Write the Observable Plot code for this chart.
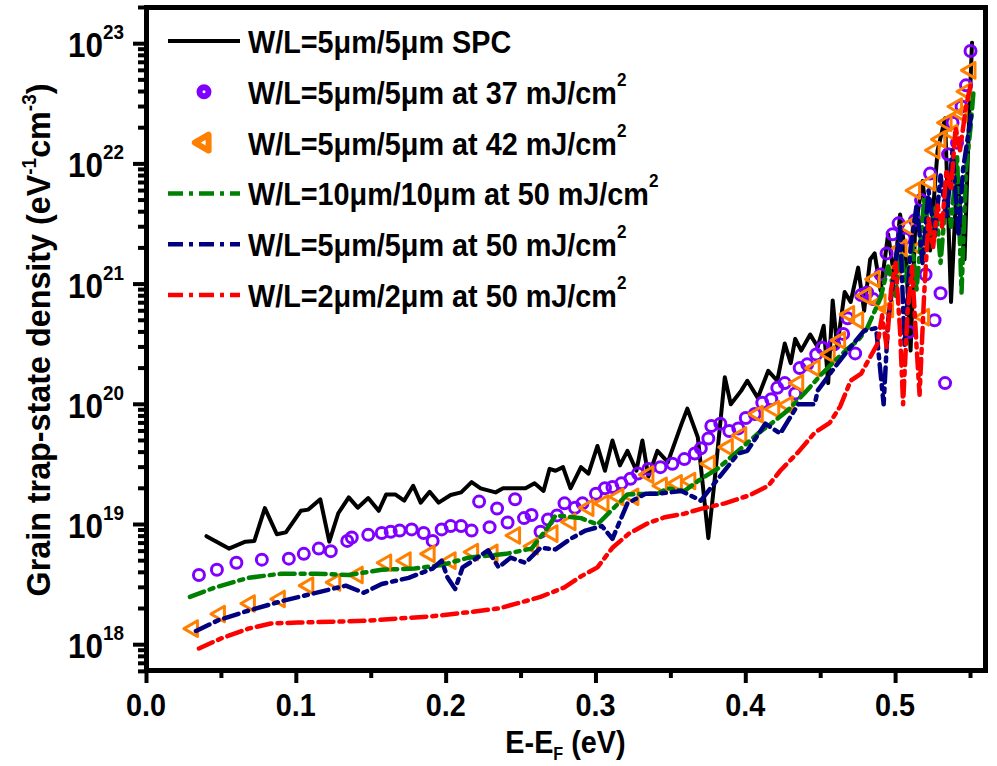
<!DOCTYPE html>
<html><head><meta charset="utf-8">
<script src="https://cdn.jsdelivr.net/npm/d3@7"></script>
<script src="https://cdn.jsdelivr.net/npm/@observablehq/plot@0.6"></script>
<style>body{margin:0;background:#fff}</style>
</head><body><div id="chart"></div>
<script>
// ---- data: [E-EF (eV), density (eV^-1 cm^-3)] ----
const spc = [[0.040,8.0e18],[0.055,6.3e18],[0.066,7.2e18],[0.072,7.3e18],[0.079,1.37e19],[0.087,8.3e18],[0.093,8.6e18],[0.103,1.30e19],[0.108,1.33e19],[0.116,1.62e19],[0.122,7.2e18],[0.128,1.24e19],[0.135,1.68e19],[0.141,1.38e19],[0.148,1.66e19],[0.155,1.30e19],[0.160,1.78e19],[0.166,1.78e19],[0.172,1.58e19],[0.178,2.1e19],[0.183,1.52e19],[0.189,1.87e19],[0.195,1.52e19],[0.203,1.76e19],[0.210,1.85e19],[0.217,2.25e19],[0.223,2.0e19],[0.233,1.85e19],[0.238,2.0e19],[0.246,2.0e19],[0.253,2.0e19],[0.259,2.2e19],[0.265,1.9e19],[0.269,2.9e19],[0.273,2.8e19],[0.278,3.0e19],[0.283,2.0e19],[0.290,3.0e19],[0.295,2.65e19],[0.301,4.5e19],[0.306,2.8e19],[0.311,5.0e19],[0.316,3.1e19],[0.321,4.1e19],[0.327,2.8e19],[0.331,5.0e19],[0.335,2.5e19],[0.341,4.1e19],[0.348,3.3e19],[0.357,6.8e19],[0.361,9.2e19],[0.368,5.3e19],[0.375,7.7e18],[0.379,2.2e19],[0.386,1.68e20],[0.390,1.0e20],[0.397,1.30e20],[0.401,1.57e20],[0.408,1.13e20],[0.415,1.9e20],[0.421,1.57e20],[0.426,3.2e20],[0.430,2.2e20],[0.433,3.5e20],[0.437,2.8e20],[0.443,3.8e20],[0.448,3.0e20],[0.452,4.5e20],[0.455,1.5e20],[0.458,7.3e20],[0.461,3.0e20],[0.466,8.6e20],[0.470,7.1e20],[0.475,1.37e21],[0.479,6.0e20],[0.483,1.6e21],[0.486,1.8e21],[0.490,8.8e20],[0.495,2.6e21],[0.499,1.17e21],[0.503,3.8e21],[0.507,1.57e21],[0.510,2.8e20],[0.513,2.8e21],[0.518,7.2e21],[0.523,1.9e21],[0.528,1.29e22],[0.533,2.4e22],[0.537,7.1e20],[0.541,8.2e21],[0.546,1.6e21],[0.549,2.3e22],[0.551,1.02e23]];

const mj37 = [[0.035,3.8e18],[0.047,4.2e18],[0.060,4.8e18],[0.077,5.1e18],[0.095,5.2e18],[0.105,5.7e18],[0.115,6.3e18],[0.123,6.0e18],[0.134,7.3e18],[0.137,7.8e18],[0.148,8.2e18],[0.157,8.5e18],[0.163,8.7e18],[0.169,8.9e18],[0.177,9.1e18],[0.185,8.5e18],[0.191,7.3e18],[0.197,9.1e18],[0.203,9.7e18],[0.210,9.7e18],[0.217,8.9e18],[0.222,1.55e19],[0.229,9.5e18],[0.234,1.36e19],[0.241,1.04e19],[0.246,1.62e19],[0.252,1.13e19],[0.257,1.2e19],[0.263,8.7e18],[0.268,1.1e19],[0.274,1.19e19],[0.279,1.5e19],[0.286,1.38e19],[0.291,1.5e19],[0.300,1.8e19],[0.306,2.0e19],[0.311,2.05e19],[0.317,2.2e19],[0.323,2.4e19],[0.328,2.65e19],[0.335,2.9e19],[0.343,3.0e19],[0.351,3.2e19],[0.359,3.5e19],[0.366,3.9e19],[0.370,4.3e19],[0.375,5.2e19],[0.377,6.6e19],[0.383,6.9e19],[0.389,6.0e19],[0.395,6.3e19],[0.400,7.7e19],[0.406,8.3e19],[0.411,1.03e20],[0.417,1.1e20],[0.421,1.37e20],[0.426,1.5e20],[0.433,1.23e20],[0.436,2.0e20],[0.441,2.15e20],[0.447,2.6e20],[0.451,2.95e20],[0.459,3.15e20],[0.465,3.85e20],[0.468,5.2e20],[0.473,2.65e20],[0.477,8.1e20],[0.481,8.5e20],[0.485,7.5e20],[0.490,1.2e21],[0.494,1.8e21],[0.498,2.6e21],[0.502,3.2e21],[0.506,2.4e21],[0.509,4.0e20],[0.513,3.4e21],[0.517,5.0e21],[0.520,1.2e21],[0.523,8.3e21],[0.526,5.0e20],[0.530,8.4e20],[0.533,1.5e20],[0.535,1.2e22],[0.538,2.2e22],[0.541,1.5e22],[0.544,3.0e22],[0.547,4.5e22],[0.550,8.7e22]];

const mj42 = [[0.031,1.36e18],[0.049,1.8e18],[0.069,2.2e18],[0.089,2.4e18],[0.108,3.1e18],[0.126,3.3e18],[0.141,3.8e18],[0.160,4.8e18],[0.173,5.0e18],[0.189,5.7e18],[0.203,5.0e18],[0.218,5.9e18],[0.231,5.8e18],[0.246,8.1e18],[0.258,6.6e18],[0.271,8.4e18],[0.283,1.05e19],[0.295,1.38e19],[0.305,1.5e19],[0.315,1.7e19],[0.325,1.7e19],[0.335,2.6e19],[0.344,2.1e19],[0.354,2.2e19],[0.363,2.3e19],[0.376,3.2e19],[0.388,4.4e19],[0.397,5.5e19],[0.408,8.3e19],[0.419,9.1e19],[0.428,9.9e19],[0.435,1.5e20],[0.446,2.0e20],[0.456,2.6e20],[0.463,3.4e20],[0.469,5.6e20],[0.475,5.0e20],[0.480,8.0e20],[0.486,1.1e21],[0.490,7.0e20],[0.495,6.2e20],[0.500,1.3e21],[0.504,2.0e21],[0.508,3.0e21],[0.513,6.0e21],[0.516,2.0e21],[0.519,5.3e20],[0.523,7.0e21],[0.526,1.3e22],[0.530,1.6e22],[0.534,2.2e22],[0.538,1.8e22],[0.541,3.0e22],[0.544,2.6e22],[0.547,4.0e22],[0.550,6.0e22]];

const w10mj50 = [[0.029,2.5e18],[0.046,3.0e18],[0.068,3.6e18],[0.090,3.9e18],[0.113,3.9e18],[0.135,3.8e18],[0.157,4.2e18],[0.179,4.3e18],[0.197,4.6e18],[0.215,5.3e18],[0.240,5.7e18],[0.257,6.3e18],[0.268,9.5e18],[0.273,1.19e19],[0.290,1.13e19],[0.301,1.0e19],[0.310,1.3e19],[0.321,1.78e19],[0.335,1.8e19],[0.341,1.8e19],[0.348,2.0e19],[0.359,1.9e19],[0.368,2.3e19],[0.381,2.9e19],[0.393,3.9e19],[0.408,5.7e19],[0.417,6.9e19],[0.428,8.9e19],[0.439,1.23e20],[0.450,1.75e20],[0.461,2.4e20],[0.468,2.9e20],[0.475,3.4e20],[0.481,4.3e20],[0.490,7.7e20],[0.495,1.4e21],[0.500,8.0e20],[0.503,2.0e21],[0.507,1.0e21],[0.511,2.2e21],[0.514,9.0e20],[0.519,5.0e21],[0.523,2.5e21],[0.527,4.5e21],[0.530,1.5e21],[0.534,6.0e21],[0.537,3.0e21],[0.541,1.2e22],[0.544,8.5e20],[0.547,9.0e21],[0.550,2.0e22],[0.552,4.0e22]];

const w5mj50 = [[0.033,1.3e18],[0.048,1.6e18],[0.068,1.92e18],[0.090,2.3e18],[0.113,2.7e18],[0.133,3.1e18],[0.145,2.7e18],[0.157,3.2e18],[0.175,3.6e18],[0.191,4.3e18],[0.197,5.0e18],[0.201,3.6e18],[0.206,2.9e18],[0.211,4.4e18],[0.218,5.0e18],[0.228,6.1e18],[0.235,4.4e18],[0.243,5.3e18],[0.253,4.8e18],[0.263,6.4e18],[0.273,6.2e18],[0.283,7.6e18],[0.293,8.9e18],[0.304,9.7e18],[0.311,7.6e18],[0.321,1.5e19],[0.333,1.8e19],[0.341,1.8e19],[0.357,1.9e19],[0.370,1.58e19],[0.379,2.2e19],[0.395,3.9e19],[0.401,4.1e19],[0.413,6.9e19],[0.423,5.7e19],[0.435,1.0e20],[0.446,1.0e20],[0.448,1.3e20],[0.459,2.0e20],[0.468,2.8e20],[0.479,4.1e20],[0.487,4.3e20],[0.492,1.0e20],[0.495,5.0e20],[0.500,1.5e21],[0.503,3.0e21],[0.506,3.0e20],[0.510,2.0e21],[0.514,4.5e21],[0.518,1.5e21],[0.522,6.0e21],[0.526,2.5e21],[0.530,8.0e21],[0.534,3.5e21],[0.538,1.3e22],[0.542,2.5e21],[0.545,9.0e21],[0.548,1.6e22],[0.551,2.8e22]];

const w2mj50 = [[0.035,9.3e17],[0.050,1.13e18],[0.068,1.36e18],[0.083,1.5e18],[0.101,1.53e18],[0.123,1.55e18],[0.146,1.58e18],[0.168,1.65e18],[0.190,1.72e18],[0.213,1.85e18],[0.235,2.0e18],[0.250,2.25e18],[0.263,2.5e18],[0.279,3.0e18],[0.290,3.7e18],[0.301,4.4e18],[0.311,6.4e18],[0.322,8.4e18],[0.335,1.03e19],[0.346,1.15e19],[0.359,1.23e19],[0.370,1.35e19],[0.386,1.5e19],[0.403,1.76e19],[0.415,2.1e19],[0.423,2.8e19],[0.435,4.0e19],[0.446,5.8e19],[0.456,7.0e19],[0.463,9.6e19],[0.470,1.57e20],[0.477,1.8e20],[0.488,3.2e20],[0.491,5.5e20],[0.494,3.0e20],[0.497,9.0e20],[0.500,1.5e21],[0.503,4.0e20],[0.505,1.0e20],[0.508,6.0e20],[0.511,1.4e21],[0.514,3.0e20],[0.516,1.2e20],[0.519,8.0e20],[0.522,3.5e21],[0.525,2.0e21],[0.528,4.5e21],[0.531,3.0e21],[0.534,9.0e21],[0.537,6.0e21],[0.540,2.0e22],[0.543,1.3e22],[0.547,3.0e22],[0.550,4.5e22]];

const seriesLabels = ["W/L=5\u03bcm/5\u03bcm SPC","W/L=5\u03bcm/5\u03bcm at 37 mJ/cm","W/L=5\u03bcm/5\u03bcm at 42 mJ/cm","W/L=10\u03bcm/10\u03bcm at 50 mJ/cm","W/L=5\u03bcm/5\u03bcm at 50 mJ/cm","W/L=2\u03bcm/2\u03bcm at 50 mJ/cm"];
const xTicks = [0.0,0.1,0.2,0.3,0.4,0.5];
const xTickLabels = ["0.0","0.1","0.2","0.3","0.4","0.5"];
const xMinor = [0.05,0.15,0.25,0.35,0.45,0.55];
const yTicks = [1e18,1e19,1e20,1e21,1e22,1e23];
const yExponents = ["18","19","20","21","22","23"];

// ---- styles ----
const C = {spc:"#000000", p37:"#8000ff", p42:"#ff8000", g:"#008000", n:"#000080", r:"#ff0000"};
const dash = "15,6,4,6";
const yMinor = [];
for (let e = 17; e <= 23; e++) for (let m = 2; m <= 9; m++) { const v = m * 10 ** e; if (v >= 6e17 && v <= 2.05e23) yMinor.push(v); }

const triLeft = {draw(ctx, size){
  const a = Math.sqrt(4 * size / Math.sqrt(3)), h = a * Math.sqrt(3) / 2;
  ctx.moveTo(-2*h/3, 0); ctx.lineTo(h/3, -a/2); ctx.lineTo(h/3, a/2); ctx.closePath();
}};

const toRows = arr => arr.map(([e, d]) => ({e, d}));
const FONT = "'Liberation Sans', Arial, Helvetica, sans-serif";

const plot = Plot.plot({
  width: 997, height: 766,
  marginLeft: 146, marginRight: 12, marginTop: 7, marginBottom: 96,
  x: {domain: [0, 0.56]},
  y: {type: "log", domain: [6.1e17, 2e23]},
  style: {background: "white", fontFamily: FONT},
  marks: [
    Plot.line(toRows(spc), {x: "e", y: "d", stroke: C.spc, strokeWidth: 4, strokeLinejoin: "round"}),
    Plot.dot(toRows(mj37), {x: "e", y: "d", r: 5.5, stroke: C.p37, strokeWidth: 3, fill: "none"}),
    Plot.dot(toRows(mj42), {x: "e", y: "d", r: 5.8, symbol: triLeft, stroke: C.p42, strokeWidth: 3, fill: "none", strokeLinejoin: "round"}),
    Plot.line(toRows(w10mj50), {x: "e", y: "d", stroke: C.g, strokeWidth: 4.5, strokeDasharray: dash}),
    Plot.line(toRows(w5mj50), {x: "e", y: "d", stroke: C.n, strokeWidth: 4.5, strokeDasharray: dash}),
    Plot.line(toRows(w2mj50), {x: "e", y: "d", stroke: C.r, strokeWidth: 4.5, strokeDasharray: dash}),
    Plot.axisX({ticks: xTicks, tickSize: 13, strokeWidth: 4, tickFormat: () => "", label: null}),
    Plot.axisX({ticks: xMinor, tickSize: 8, strokeWidth: 4, tickFormat: () => "", label: null}),
    Plot.axisY({ticks: yTicks, tickSize: 13, strokeWidth: 4, tickFormat: () => "", label: null}),
    Plot.axisY({ticks: yMinor, tickSize: 8, strokeWidth: 4, tickFormat: () => "", label: null}),
    Plot.frame({stroke: "black", strokeWidth: 5})
  ]
});
document.getElementById("chart").appendChild(plot);

const xs = plot.scale("x"), ys = plot.scale("y");
const svg = d3.select(plot);
const g = svg.append("g").attr("font-family", FONT).attr("font-weight", "bold").attr("fill", "black");
// text helper: horizontally condensed bold text
const SX = 0.9;
function label(parent, x, y, anchor, size) {
  return parent.append("text").attr("transform", `translate(${x},${y}) scale(${SX},1)`).attr("text-anchor", anchor).attr("font-size", size);
}

// y tick labels
yTicks.forEach((v, i) => {
  const t = label(g, 124, ys.apply(v) + 14, "end", 35);
  t.append("tspan").text("10");
  t.append("tspan").attr("font-size", 21).attr("dy", -18).text(yExponents[i]);
});
// x tick labels
xTicks.forEach((v, i) => {
  label(g, xs.apply(v), 716, "middle", 32).text(xTickLabels[i]);
});
// x title
const xt = label(g, (146 + 985) / 2, 753, "middle", 32);
xt.append("tspan").text("E-E");
xt.append("tspan").attr("font-size", 18).attr("dy", 7).text("F");
xt.append("tspan").attr("dy", -7).text(" (eV)");
// y title
const yt = g.append("text").attr("transform", "translate(50,340) rotate(-90) scale(0.95,1)").attr("text-anchor", "middle").attr("font-size", 34);
yt.append("tspan").text("Grain trap-state density (eV");
yt.append("tspan").attr("font-size", 20).attr("dy", -14).text("-1");
yt.append("tspan").attr("dy", 14).text("cm");
yt.append("tspan").attr("font-size", 20).attr("dy", -14).text("-3");
yt.append("tspan").attr("dy", 14).text(")");

// legend
const lg = svg.append("g").attr("font-family", FONT).attr("font-weight", "bold").attr("text-anchor", "start");
const rowY = i => 41 + i * 50.8;
const legendStyles = [
  {type: "line", color: C.spc},
  {type: "circle", color: C.p37},
  {type: "tri", color: C.p42},
  {type: "dash", color: C.g},
  {type: "dash", color: C.n},
  {type: "dash", color: C.r}
];
legendStyles.forEach((s, i) => {
  const y = rowY(i);
  if (s.type === "line") lg.append("line").attr("x1", 168).attr("x2", 240).attr("y1", y).attr("y2", y).attr("stroke", s.color).attr("stroke-width", 4);
  else if (s.type === "dash") lg.append("line").attr("x1", 168).attr("x2", 240).attr("y1", y).attr("y2", y).attr("stroke", s.color).attr("stroke-width", 4.5).attr("stroke-dasharray", dash);
  else if (s.type === "circle") lg.append("circle").attr("cx", 204).attr("cy", y).attr("r", 4.5).attr("fill", "none").attr("stroke", s.color).attr("stroke-width", 6);
  else lg.append("path").attr("transform", `translate(204,${y})`).attr("d", d3.symbol(triLeft, 110)()).attr("fill", "none").attr("stroke", s.color).attr("stroke-width", 6).attr("stroke-linejoin", "round");
  const t = label(lg, 248, y + 12, "start", 32).attr("fill", "black");
  t.append("tspan").text(seriesLabels[i]);
  if (i > 0) t.append("tspan").attr("font-size", 19).attr("dy", -18).text("2");
});
</script></body></html>
